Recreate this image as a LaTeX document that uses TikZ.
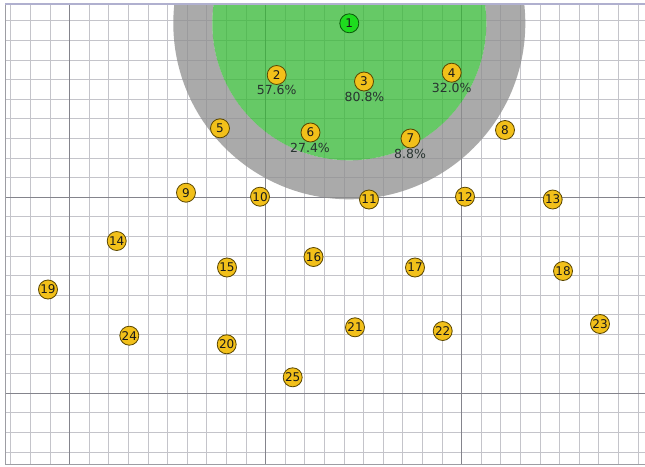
\documentclass[tikz,border=0pt]{standalone}
\usepackage{fontspec}
\setmainfont{DejaVu Sans}
\definecolor{minorc}{RGB}{196,196,202}
\definecolor{majorc}{RGB}{132,132,140}
\definecolor{greyfill}{RGB}{142,142,142}
\definecolor{greenfill}{RGB}{52,184,52}
\definecolor{gold}{RGB}{242,192,26}
\definecolor{goldedge}{RGB}{90,70,0}
\definecolor{brightgreen}{RGB}{30,220,30}
\definecolor{greenedge}{RGB}{10,90,10}
\definecolor{pcttext}{RGB}{40,52,48}
\tikzset{
  minorline/.style={draw=minorc, line width=1.1pt},
  majorline/.style={draw=majorc, line width=1.1pt},
  nd/.style={circle, draw=goldedge, fill=gold, line width=0.8pt, minimum size=19pt, inner sep=0pt, font=\fontsize{12}{13}\selectfont, text=black!90},
  ndg/.style={nd, fill=brightgreen, draw=greenedge},
  pct/.style={inner sep=0pt, font=\fontsize{12.5}{13}\selectfont, text=pcttext}
}
\begin{document}
\begin{tikzpicture}[x=1pt, y=-1pt]
\useasboundingbox (0,0) rectangle (645,466);
\fill[white] (0,0) rectangle (645,466);
% grid
\foreach \k in {-3,...,29} {
  \pgfmathsetmacro{\xx}{69.7+19.6*\k}
  \draw[minorline] (\xx,4) -- (\xx,465);
}
\foreach \k in {-9,...,13} {
  \pgfmathsetmacro{\yy}{197.3+19.6*\k}
  \draw[minorline] (5,\yy) -- (645,\yy);
}
\foreach \xx in {69.7,265.7,461.7} \draw[majorline] (\xx,4) -- (\xx,465);
\foreach \yy in {197.3,393.3} \draw[majorline] (5,\yy) -- (645,\yy);
% coverage discs
\begin{scope}
\clip (5,4.5) rectangle (645,465);
\fill[greyfill, opacity=0.75, even odd rule] (349.3,23.3) circle[radius=176] (349.3,23.3) circle[radius=137];
\fill[greenfill, opacity=0.75] (349.3,23.3) circle[radius=137];
\end{scope}
% frame
\draw[draw=majorc!80, line width=1.5pt] (5.5,4) -- (5.5,465);
\draw[draw=majorc!80, line width=1.5pt] (5,464.5) -- (645,464.5);
\draw[draw=minorc!90!blue, line width=1.5pt] (5,4.2) -- (645,4.2);
% nodes
\node[ndg] (n1) at (349.3,23.3) {1};
\node[nd] (n2) at (276.7,75) {2};
\node[nd] (n3) at (364,81.5) {3};
\node[nd] (n4) at (451.7,72.7) {4};
\node[nd] (n5) at (220,128.3) {5};
\node[nd] (n6) at (310.5,132.5) {6};
\node[nd] (n7) at (410.5,138.5) {7};
\node[nd] (n8) at (505,130) {8};
\node[nd] (n9) at (186,192.7) {9};
\node[nd] (n10) at (260,196.7) {10};
\node[nd] (n11) at (369,199.5) {11};
\node[nd] (n12) at (465,196.7) {12};
\node[nd] (n13) at (552.7,199.5) {13};
\node[nd] (n14) at (116.7,241) {14};
\node[nd] (n15) at (227,267.5) {15};
\node[nd] (n16) at (313.5,257) {16};
\node[nd] (n17) at (415,267.5) {17};
\node[nd] (n18) at (563,271) {18};
\node[nd] (n19) at (48,289.5) {19};
\node[nd] (n20) at (226.7,344.3) {20};
\node[nd] (n21) at (355,327.3) {21};
\node[nd] (n22) at (442.7,331) {22};
\node[nd] (n23) at (600,324) {23};
\node[nd] (n24) at (129.3,335.7) {24};
\node[nd] (n25) at (292.7,377.3) {25};
% percentages
\node[pct] (p2) at (276.7,90.3) {57.6\%};
\node[pct] (p3) at (364.5,97) {80.8\%};
\node[pct] (p4) at (451.7,88.3) {32.0\%};
\node[pct] (p6) at (310,148.3) {27.4\%};
\node[pct] (p7) at (410,154.3) {8.8\%};
\end{tikzpicture}
\end{document}
